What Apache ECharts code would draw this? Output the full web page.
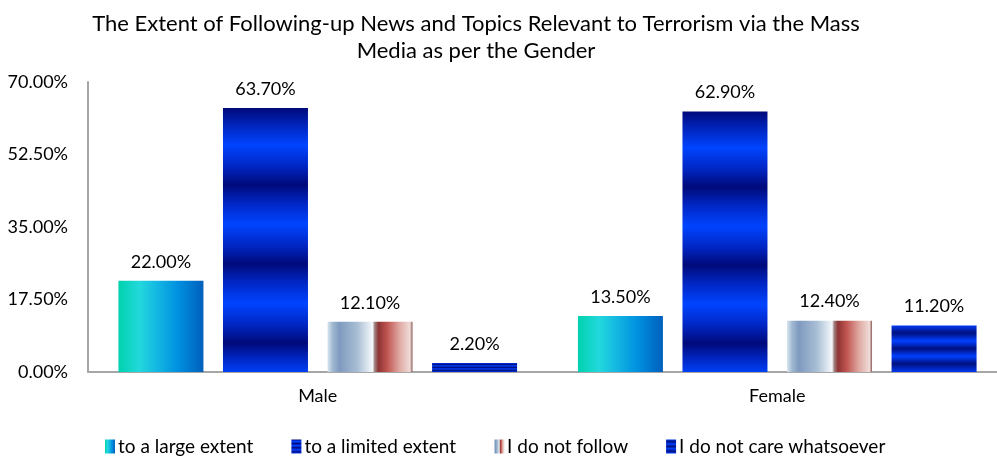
<!DOCTYPE html>
<html>
<head>
<meta charset="utf-8">
<script src="https://cdn.jsdelivr.net/npm/echarts@6/dist/echarts.min.js"></script>
<style>
  html, body { margin: 0; padding: 0; background: #fff; }
  #chart { width: 997px; height: 456px; }
</style>
</head>
<body>
<div id="chart"></div>
<script>
// data
const genders = ['Male', 'Female'];
const seriesNames = ['to a large extent', 'to a limited extent', 'I do not follow', 'I do not care whatsoever'];
const largeExtent = [22.0, 13.5];
const limitedExtent = [63.7, 62.9];
const notFollow = [12.1, 12.4];
const notCare = [2.2, 11.2];
const yTicks = [0, 17.5, 35, 52.5, 70];

const FONT = 'Lato, "Open Sans", sans-serif';

// fills, approximating the office-style gradients
function grad(x2, y2, stops) {
  return new echarts.graphic.LinearGradient(0, 0, x2, y2,
    stops.map(s => ({ offset: s[0], color: s[1] })));
}

const tealFill = grad(1, 0, [
  [0, '#00d2ae'], [0.25, '#22d8dc'], [0.45, '#14b8e2'],
  [0.7, '#0090e0'], [1, '#0060bc']
]);

// vertical bands: navy -> bright blue, repeated
const bandFill = grad(0, 1, [
  [0, '#000a7a'], [0.06, '#0022b8'], [0.14, '#0044ff'], [0.22, '#0026c4'],
  [0.29, '#000a7a'], [0.36, '#0026c4'], [0.44, '#0044ff'], [0.52, '#0026c4'],
  [0.59, '#000a7a'], [0.66, '#0026c4'], [0.74, '#0044ff'], [0.82, '#0026c4'],
  [0.89, '#000a7a'], [0.95, '#0026c4'], [1, '#0040f4']
]);

const stripeFill = grad(0, 1, [
  [0, '#0038f0'], [0.16, '#001080'], [0.33, '#0040ff'], [0.5, '#001080'],
  [0.66, '#0040ff'], [0.82, '#001080'], [1, '#0038f0']
]);

const splitFill = grad(1, 0, [
  [0, '#d8e6f0'], [0.06, '#a0b8d0'], [0.14, '#7f9ac0'], [0.35, '#a8bed4'],
  [0.53, '#f4f8fb'], [0.555, '#a08080'], [0.6, '#8e3434'], [0.7, '#c05450'],
  [0.85, '#e0aaa4'], [0.97, '#f0dcd8'], [1, '#8a5a58']
]);

const fills = [tealFill, bandFill, splitFill, stripeFill];
const values = [largeExtent, limitedExtent, notFollow, notCare];

const chart = echarts.init(document.getElementById('chart'));

chart.setOption({
  backgroundColor: '#fff',
  animation: false,
  title: {
    text: 'The Extent of Following-up News and Topics Relevant to Terrorism via the Mass\nMedia as per the Gender',
    left: 471,
    textAlign: 'center',
    top: 5,
    textStyle: { fontFamily: FONT, fontSize: 22, fontWeight: 'normal', color: '#000', lineHeight: 27 }
  },
  legend: {
    bottom: -5,
    left: 100,
    itemWidth: 10,
    itemHeight: 14,
    itemGap: 38,
    icon: 'rect',
    data: seriesNames,
    textStyle: { fontFamily: FONT, fontSize: 19, color: '#000', padding: [0, 0, 0, -2] }
  },
  grid: { left: 88, right: -10, top: 82, bottom: 84, outerBoundsMode: 'none' },
  xAxis: {
    type: 'category',
    data: genders,
    axisLine: { lineStyle: { color: '#a6a6a6', width: 2 } },
    axisTick: { show: false },
    axisLabel: { fontFamily: FONT, fontSize: 18, color: '#000', margin: 15 }
  },
  yAxis: {
    type: 'value',
    min: 0,
    max: 70,
    interval: 17.5,
    axisLine: { show: true, lineStyle: { color: '#a6a6a6', width: 2 } },
    axisTick: { show: false },
    splitLine: { show: false },
    axisLabel: {
      fontFamily: FONT, fontSize: 18, color: '#000', margin: 20,
      formatter: v => v.toFixed(2) + '%'
    }
  },
  series: seriesNames.map((name, i) => ({
    name,
    type: 'bar',
    data: values[i],
    barWidth: 85,
    barGap: '23%',
    itemStyle: { color: fills[i] },
    label: {
      show: true,
      position: 'top',
      distance: 10,
      fontFamily: FONT,
      fontSize: 18,
      color: '#000',
      formatter: p => p.value.toFixed(2) + '%'
    }
  }))
});
</script>
</body>
</html>
